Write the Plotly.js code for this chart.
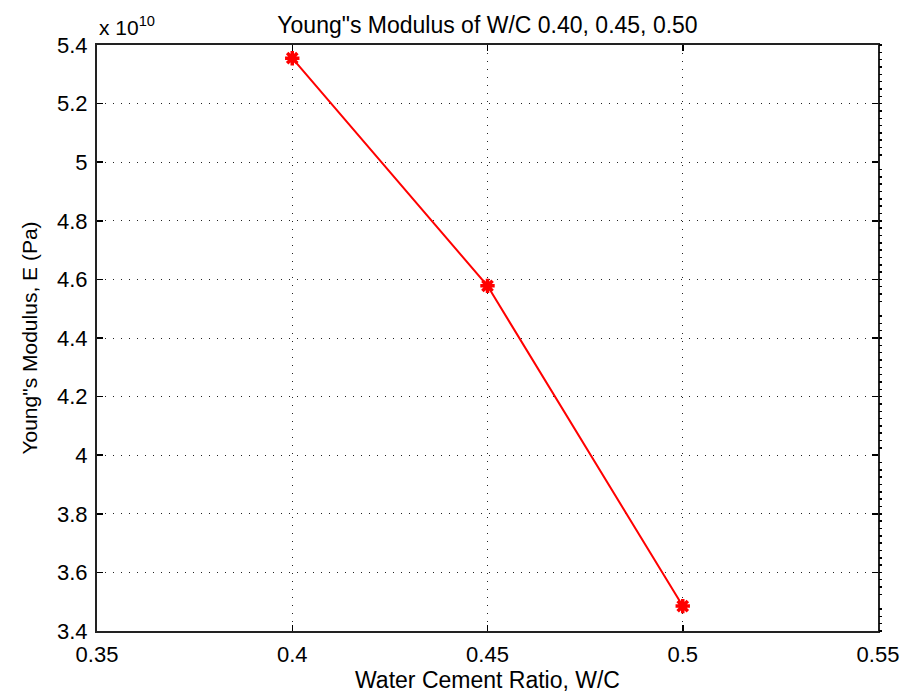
<!DOCTYPE html>
<html>
<head>
<meta charset="utf-8">
<script src="https://cdn.plot.ly/plotly-3.0.1.min.js"></script>
<style>
  html, body { margin: 0; padding: 0; background: #ffffff; }
  #chart { width: 916px; height: 693px; }
</style>
</head>
<body>
<div id="chart"></div>
<script>
// Water/cement ratios tested and the measured Young's modulus (Pa)
const wcRatio = [0.40, 0.45, 0.50];
const youngsModulus = [5.355e10, 4.578e10, 3.485e10];

// Axis ticks
const xTicks = [0.35, 0.40, 0.45, 0.50, 0.55];
const yTicks = [3.4e10, 3.6e10, 3.8e10, 4.0e10, 4.2e10, 4.4e10, 4.6e10, 4.8e10, 5.0e10, 5.2e10, 5.4e10];
const yTickText = yTicks.map(v => String(Number((v / 1e10).toFixed(1))));

const FONT = "Liberation Sans, Arial, sans-serif";
const yRange = [3.4e10, 5.4e10];

const trace = {
  x: wcRatio,
  y: youngsModulus,
  type: "scatter",
  mode: "lines+markers",
  line: { color: "#ff0000", width: 2 },
  marker: { symbol: "asterisk-open", size: 12, color: "#ff0000", line: { color: "#ff0000", width: 3.5 } },
  showlegend: false,
  hoverinfo: "x+y"
};

// Invisible carrier for the fine tick marks on the right-hand edge
const rightTicks = {
  x: [wcRatio[0]],
  y: [youngsModulus[0]],
  yaxis: "y2",
  type: "scatter",
  mode: "markers",
  marker: { opacity: 0 },
  showlegend: false,
  hoverinfo: "skip"
};

const layout = {
  width: 916,
  height: 693,
  margin: { l: 97, r: 38, t: 45, b: 62 },
  paper_bgcolor: "#ffffff",
  plot_bgcolor: "#ffffff",
  font: { family: FONT, size: 22, color: "#000000" },
  title: {
    text: "Young\"s Modulus of W/C 0.40, 0.45, 0.50",
    font: { family: FONT, size: 23, color: "#000000" },
    x: 0.5, xref: "paper", xanchor: "center",
    y: 1, yref: "paper", yanchor: "bottom",
    pad: { b: 12 }
  },
  xaxis: {
    range: [0.35, 0.55],
    tickvals: xTicks,
    ticktext: xTicks.map(v => String(v)),
    ticks: "inside",
    ticklen: 6,
    tickwidth: 1.5,
    tickcolor: "#000000",
    showline: true,
    linecolor: "#222222",
    linewidth: 2,
    mirror: "ticks",
    showgrid: true,
    gridcolor: "#222222",
    gridwidth: 1,
    griddash: "1px,7px",
    zeroline: false,
    tickfont: { family: FONT, size: 22 },
    ticklabelstandoff: 3,
    title: { text: "Water Cement Ratio, W/C", font: { family: FONT, size: 23 }, standoff: 4 }
  },
  yaxis: {
    range: yRange,
    tickvals: yTicks,
    ticktext: yTickText,
    ticks: "inside",
    ticklen: 6,
    tickwidth: 1.5,
    tickcolor: "#000000",
    showline: true,
    linecolor: "#222222",
    linewidth: 2,
    mirror: "ticks",
    showgrid: true,
    gridcolor: "#222222",
    gridwidth: 1,
    griddash: "1px,7px",
    zeroline: false,
    tickfont: { family: FONT, size: 22 },
    ticklabelstandoff: 3,
    title: { text: "Young\"s Modulus, E (Pa)", font: { family: FONT, size: 21 }, standoff: 14 }
  },
  yaxis2: {
    overlaying: "y",
    side: "right",
    range: yRange,
    showticklabels: false,
    showgrid: false,
    zeroline: false,
    showline: false,
    ticks: "",
    minor: { dtick: 0.025e10, ticks: "outside", ticklen: 3, tickwidth: 1.5, tickcolor: "#000000", showgrid: false }
  },
  annotations: [
    {
      text: "x 10<sup>10</sup>",
      xref: "paper", yref: "paper",
      x: 0, y: 1,
      xanchor: "left", yanchor: "bottom",
      yshift: 4,
      showarrow: false,
      font: { family: FONT, size: 21, color: "#000000" }
    }
  ]
};

Plotly.newPlot("chart", [trace, rightTicks], layout, { staticPlot: true, displayModeBar: false });
</script>
</body>
</html>
